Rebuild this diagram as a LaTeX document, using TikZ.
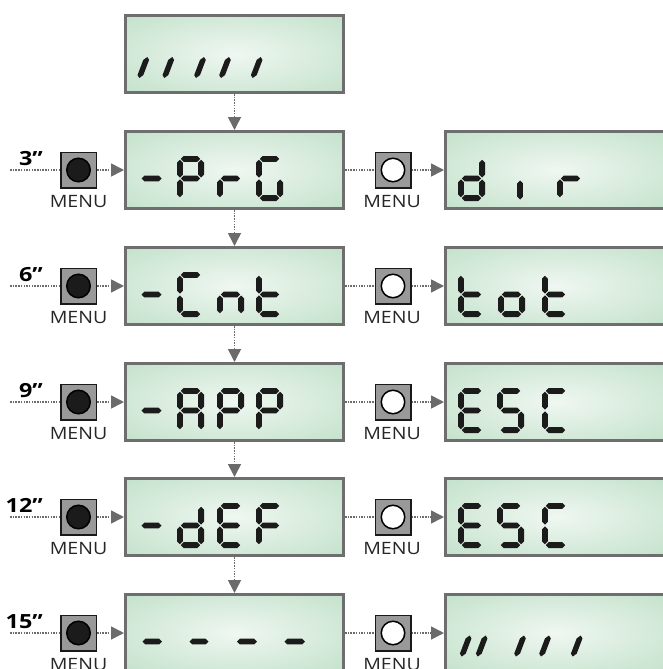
\documentclass[tikz,border=0pt]{standalone}
\usepackage{fontspec}
\setmainfont{Open Sans}
\usetikzlibrary{arrows.meta}

\definecolor{lcdrim}{HTML}{6E6E6E}
\definecolor{lcdlight}{HTML}{EFF7F1}
\definecolor{lcddark}{HTML}{B2D9BC}
\definecolor{segink}{HTML}{1B1B1B}
\definecolor{keygray}{HTML}{999999}
\definecolor{leadgray}{HTML}{6B6B6B}

\pgfdeclareradialshading{lcdglow}{\pgfpoint{0bp}{0bp}}{color(0bp)=(lcdlight); color(50bp)=(lcddark)}

% one segment of the display, horizontal or vertical (half width 2.9)
\newcommand{\hseg}[3]{\fill[segfill] (#1,#3) -- ({#1+2.9},{#3-2.9}) -- ({#2-2.9},{#3-2.9}) -- (#2,#3) -- ({#2-2.9},{#3+2.9}) -- ({#1+2.9},{#3+2.9}) -- cycle;}
\newcommand{\vseg}[3]{\fill[segfill] (#1,#2) -- ({#1+2.9},{#2+2.9}) -- ({#1+2.9},{#3-2.9}) -- (#1,#3) -- ({#1-2.9},{#3-2.9}) -- ({#1-2.9},{#2+2.9}) -- cycle;}
\newcommand{\sega}{\hseg{3.8}{23.2}{2.9}}
\newcommand{\segb}{\vseg{24.1}{3.8}{21.6}}
\newcommand{\segc}{\vseg{24.1}{23.4}{41.2}}
\newcommand{\segd}{\hseg{3.8}{23.2}{42.1}}
\newcommand{\sege}{\vseg{2.9}{23.4}{41.2}}
\newcommand{\segf}{\vseg{2.9}{3.8}{21.6}}
\newcommand{\segg}{\hseg{3.8}{23.2}{22.5}}
\newcommand{\lcdchar}[3]{\begin{scope}[shift={(#1,#2)}]\foreach \s in {#3}{\csname seg\s\endcsname}\end{scope}}
\newcommand{\lcdtick}[2]{\begin{scope}[shift={(#1,#2)}, xslant=0.38]\vseg{0}{-10.5}{10.5}\end{scope}}

\tikzset{
  lcd/.style={draw=lcdrim, line width=3pt, shading=lcdglow, minimum height=77pt, inner sep=0pt},
  key/.style={draw=black!90, line width=1.5pt, fill=keygray, minimum size=35.5pt, inner sep=0pt},
  knob/.style={circle, draw=black, line width=1.5pt, minimum size=23.5pt, inner sep=0pt},
  lead/.style={draw=leadgray, line width=1.6pt, dash pattern=on 1.5pt off 1.2pt},
  leadarrow/.style={lead, -{Triangle[length=13pt, width=13pt]}},
  keyname/.style={font=\fontsize{17}{17}\selectfont, text=black!85, inner sep=0pt},
  holdtime/.style={font=\fontsize{19.5}{19.5}\selectfont\bfseries, inner sep=0pt},
  segfill/.style={fill=segink}
}

\begin{document}
\begin{tikzpicture}[x=1pt, y=-1pt]
  \useasboundingbox (0,0) rectangle (663,669);
  \clip (0,0) rectangle (663,669);

  \node[lcd, minimum width=218pt] (lcd0) at (234.5,54) {};
  \foreach \r/\c/\t in {1/170/3, 2/286/6, 3/402/9, 4/517/12, 5/633/15} {
    \node[lcd, minimum width=218pt] (lcd\r) at (234.5,\c) {};
    \node[lcd, minimum width=222pt] (rlcd\r) at (556.5,\c) {};
    \node[key] (lkey\r) at (78.5,\c) {};
    \node[knob, fill=segink] (lknob\r) at (lkey\r) {};
    \node[key] (rkey\r) at (393,\c) {};
    \node[knob, fill=white] (rknob\r) at (rkey\r) {};
    \node[keyname, anchor=base] (lname\r) at (78.5,\c+37) {\scalebox{1.15}[1]{MENU}};
    \node[keyname, anchor=base] (rname\r) at (392,\c+37) {\scalebox{1.15}[1]{MENU}};
    \node[holdtime, anchor=base east] (hold\r) at (43,\c-4.5) {\scalebox{1.2}[1]{\t”}};
    \coordinate (lead\r) at (10,\c);
    \draw[lead] (lead\r) -- (lkey\r);
    \draw[leadarrow] (lkey\r) -- (lcd\r);
    \draw[lead] (lcd\r) -- (rkey\r);
    \draw[leadarrow] (rkey\r) -- (rlcd\r);
  }
  \foreach \a/\b in {0/1, 1/2, 2/3, 3/4, 4/5}
    \draw[leadarrow] (lcd\a) -- (lcd\b);

  % display contents
  \begin{scope}[shift={(lcd0.north west)}]
    \foreach \x in {19.3, 44.3, 76, 101, 132.7} {\lcdtick{\x}{53.5}}
  \end{scope}
  \begin{scope}[shift={(lcd1.north west)}]
    \hseg{17.5}{37.5}{48.5}
    \lcdchar{53}{26}{a,b,f,g,e}
    \lcdchar{93}{26}{e,g}
    \lcdchar{132}{26}{a,f,e,d,c}
  \end{scope}
  \begin{scope}[shift={(rlcd1.north west)}]
    \lcdchar{14}{26}{b,c,d,e,g}
    \vseg{76}{50.5}{69.5}
    \lcdchar{113}{26}{e,g}
  \end{scope}
  \begin{scope}[shift={(lcd2.north west)}]
    \hseg{17.5}{37.5}{48.5}
    \lcdchar{53}{26}{a,d,e,f}
    \lcdchar{93}{26}{c,e,g}
    \lcdchar{132}{26}{d,e,f,g}
  \end{scope}
  \begin{scope}[shift={(rlcd2.north west)}]
    \lcdchar{14}{26}{d,e,f,g}
    \lcdchar{54}{26}{c,d,e,g}
    \lcdchar{98}{26}{d,e,f,g}
  \end{scope}
  \begin{scope}[shift={(lcd3.north west)}]
    \hseg{17.5}{37.5}{48.5}
    \lcdchar{53}{26}{a,b,c,e,f,g}
    \lcdchar{93}{26}{a,b,f,g,e}
    \lcdchar{132}{26}{a,b,f,g,e}
  \end{scope}
  \begin{scope}[shift={(rlcd3.north west)}]
    \lcdchar{14}{26}{a,d,e,f,g}
    \lcdchar{53}{26}{a,c,d,f,g}
    \lcdchar{98}{26}{a,d,e,f}
  \end{scope}
  \begin{scope}[shift={(lcd4.north west)}]
    \hseg{17.5}{37.5}{48.5}
    \lcdchar{53}{26}{b,c,d,e,g}
    \lcdchar{93}{26}{a,d,e,f,g}
    \lcdchar{132}{26}{a,e,f,g}
  \end{scope}
  \begin{scope}[shift={(rlcd4.north west)}]
    \lcdchar{14}{26}{a,d,e,f,g}
    \lcdchar{53}{26}{a,c,d,f,g}
    \lcdchar{98}{26}{a,d,e,f}
  \end{scope}
  \begin{scope}[shift={(lcd5.north west)}]
    \hseg{18.5}{38}{48.5}
    \hseg{65.5}{84.5}{48.5}
    \hseg{113}{133}{48.5}
    \hseg{160.5}{181}{48.5}
  \end{scope}
  \begin{scope}[shift={(rlcd5.north west)}]
    \foreach \x in {21.7, 37.7, 76, 101, 132.7} {\lcdtick{\x}{53}}
  \end{scope}
\end{tikzpicture}
\end{document}
